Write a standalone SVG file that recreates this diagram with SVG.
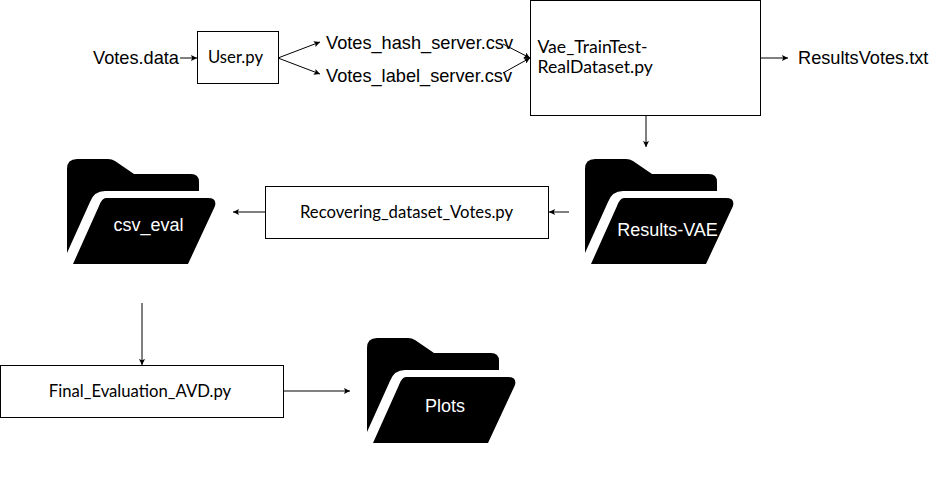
<svg xmlns="http://www.w3.org/2000/svg" width="940" height="482" viewBox="0 0 940 482">
<style>
.box{fill:#fff;stroke:#000;stroke-width:1}
.c{fill:none;stroke:#000;stroke-width:1;marker-end:url(#a)}
.t{font-family:"Liberation Sans",Arial,sans-serif;font-size:18.2px;fill:#000}
.b{font-family:Lato,"Noto Sans",sans-serif;font-size:16.700px;fill:#000}
.v{font-family:Lato,"Noto Sans",sans-serif;font-size:17.600px;fill:#000}
.f{font-family:"Liberation Sans",Arial,sans-serif;font-size:18px;fill:#fff;text-anchor:middle}
</style>
<defs>
<marker id="a" markerWidth="7" markerHeight="6" refX="6" refY="3" orient="auto" markerUnits="userSpaceOnUse"><path d="M0 0L6 3L0 6L1.200 3Z" fill="#000"/></marker>
<g id="folder">
<path d="M67 169q0-10 10-10H108q4 0 7 2L134 174H191q8 0 8 8V191H105q-11 0-15 11L67 253Z" fill="#000"/>
<path d="M106 198H208q9 0 7 8L188 264H73L99 206q3-8 7-8Z" fill="#000"/>
</g>
</defs>
<rect width="940" height="482" fill="#fff"/>
<g id="connectors">
<path class="c" d="M180 58H197"/>
<path class="c" d="M278 58L320 42"/>
<path class="c" d="M278 58L320 74"/>
<path class="c" d="M503 44L530 58"/>
<path class="c" d="M503 73L530 58"/>
<path class="c" d="M761 58H788"/>
<path class="c" d="M646 116V147"/>
<path class="c" d="M569 212H549"/>
<path class="c" d="M265 212H233"/>
<path class="c" d="M142 303V365"/>
<path class="c" d="M284 391H350"/>
</g>
<g id="votes-data"><text class="t" x="93" y="64">Votes.data</text></g>
<g id="user-py"><rect class="box" x="197.500" y="31.500" width="81" height="52"/><text class="b" x="208" y="63">User.py</text></g>
<g id="votes-hash"><text class="t" x="326" y="49">Votes_hash_server.csv</text></g>
<g id="votes-label"><text class="t" x="326" y="82">Votes_label_server.csv</text></g>
<g id="vae"><rect class="box" x="530.500" y="0.500" width="230" height="115"/><text class="v" x="537.500" y="53">Vae_TrainTest-</text><text class="v" x="537.500" y="73">RealDataset.py</text></g>
<g id="results-votes"><text class="t" x="798" y="64">ResultsVotes.txt</text></g>
<g id="results-vae"><use href="#folder" x="518" y="0"/><text class="f" x="667.500" y="236">Results-VAE</text></g>
<g id="recovering"><rect class="box" x="265.500" y="186.500" width="283" height="52"/><text class="b" x="406.500" y="218" text-anchor="middle">Recovering_dataset_Votes.py</text></g>
<g id="csv-eval"><use href="#folder"/><text class="f" x="148.500" y="231">csv_eval</text></g>
<g id="final-eval"><rect class="box" x="0.500" y="365.500" width="283" height="52"/><text class="b" x="140" y="397" text-anchor="middle">Final_Evaluation_AVD.py</text></g>
<g id="plots"><use href="#folder" x="300" y="179"/><text class="f" x="445" y="412">Plots</text></g>
</svg>
